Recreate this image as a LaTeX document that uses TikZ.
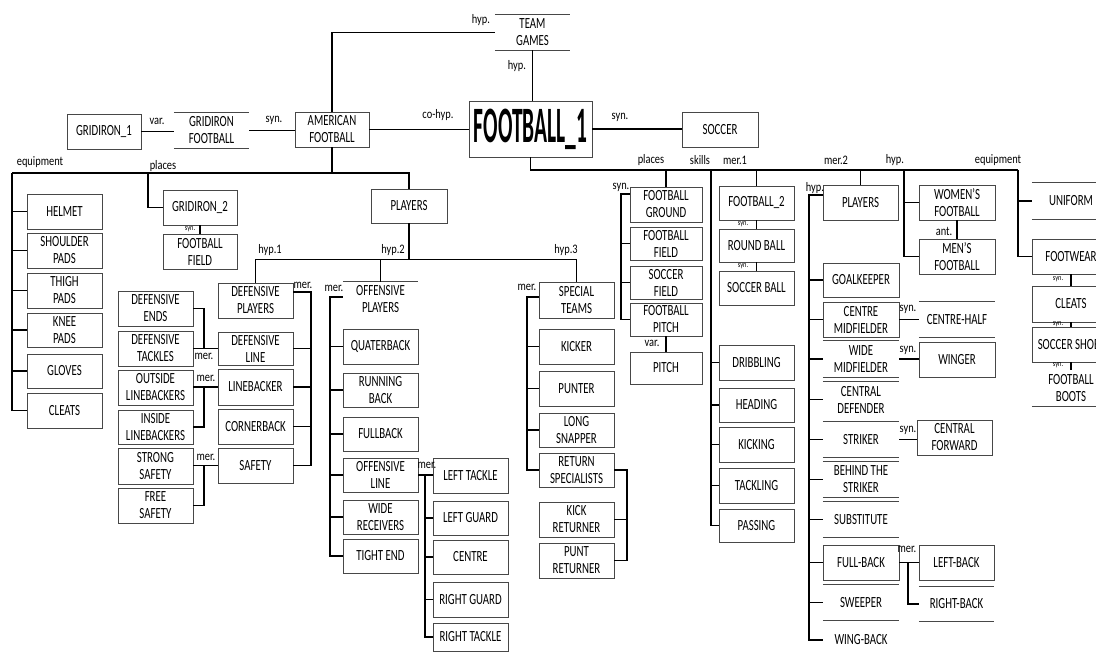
\documentclass[tikz,border=0pt]{standalone}
\usepackage{fontspec}
\setmainfont{Carlito}[FakeStretch=0.70]
\newfontfamily\bigfont{Carlito}[FakeStretch=0.42]
\newfontfamily\lblf{Carlito}[FakeStretch=0.8]
\usetikzlibrary{calc}
\newcommand\bx[7][box]{\node[#1,minimum width={(#5-#3)*1pt},minimum height={(#6-#4)*1pt}] (#2) at ({(#3+#5)/2},{(#4+#6)/2}) {#7};}
\newcommand\tbl[1]{\draw[edge] (#1.north west) -- (#1.north east) (#1.south west) -- (#1.south east);}
\newcommand\tpl[1]{\draw[edge] (#1.north west) -- (#1.north east);}
\newcommand\btl[1]{\draw[edge] (#1.south west) -- (#1.south east);}
\begin{document}
\begin{tikzpicture}[x=1pt,y=-1pt,
  box/.style={draw=black!72,line width=0.9pt,inner sep=0pt,align=center,font=\fontsize{15.5}{17}\selectfont},
  open/.style={inner sep=0pt,align=center,font=\fontsize{15.5}{17}\selectfont},
  edge/.style={draw=black!72,line width=0.9pt},
  ln/.style={draw=black,line width=1.2pt},
  lbl/.style={inner sep=0pt,font=\lblf\fontsize{13}{15}\selectfont},
  tiny/.style={inner sep=0pt,font=\lblf\fontsize{8}{9}\selectfont}]
\useasboundingbox (0,0) rectangle (1096,652);
\clip (0,0) rectangle (1096,652);
% ---- top row
\bx[open]{tg}{495}{15}{570}{50}{TEAM\\GAMES}\tbl{tg}
\bx[box,font=\bigfont\bfseries\fontsize{51}{51}\selectfont]{f1}{469}{101}{592}{157}{FOOTBALL\_1}
\bx{g1}{67}{114}{141}{149}{GRIDIRON\_1}
\bx[open]{gf}{174}{113}{249}{148}{GRIDIRON\\FOOTBALL}\tbl{gf}
\bx{af}{295}{112}{369}{147}{AMERICAN\\FOOTBALL}
\bx{soc}{682}{112}{758}{147}{SOCCER}
\draw[ln] (af.north) |- (tg.west);
\draw[ln] (tg.south) -- (tg.south |- f1.north);
\draw[ln] (af.east) -- (af.east -| f1.west);
\draw[ln] (f1.east) -- (f1.east -| soc.west);
\draw[ln] (g1.east) -- (g1.east -| gf.west);
\draw[ln] (gf.east) -- (gf.east -| af.west);
\node[lbl] (l1) at (481,20) {hyp.};
\node[lbl] (l2) at (517,66) {hyp.};
\node[lbl] (l3) at (438,115) {co-hyp.};
\node[lbl] (l4) at (620,117) {syn.};
\node[lbl] (l5) at (157,121) {var.};
\node[lbl] (l6) at (274,120) {syn.};
% ---- American football
\coordinate (eqtop) at (12,173);
\coordinate (plc) at (148,173);
\bx{apl}{371}{189}{447}{223}{PLAYERS}
\draw[ln] (af.south) |- (eqtop);
\draw[ln] (af.south |- eqtop) -| (apl.north);
\node[lbl] (l7) at (40,162) {equipment};
\node[lbl] (l8) at (163,166) {places};
\bx{helm}{27}{194}{102}{229}{HELMET}
\bx{shp}{27}{233}{102}{268}{SHOULDER\\PADS}
\bx{thp}{27}{273}{102}{308}{THIGH\\PADS}
\bx{knp}{27}{313}{102}{347}{KNEE\\PADS}
\bx{glv}{27}{354}{102}{388}{GLOVES}
\bx{clt}{27}{393}{102}{428}{CLEATS}
\draw[ln] (eqtop) |- (clt.west);
\foreach \n in {helm,shp,thp,knp,glv} \draw[ln] (\n.west) -- (\n.west -| eqtop);
\bx{gr2}{163}{190}{237}{225}{GRIDIRON\_2}
\bx{ff1}{163}{234}{237}{269}{FOOTBALL\\FIELD}
\draw[ln] (plc) |- (gr2.west);
\draw[ln] (gr2.south) -- (ff1.north);
\node[tiny] (l9) at (190,229) {syn.};
% players tree
\draw[ln] (apl.south) -- ++(0,36) coordinate (hb);
\bx{dp}{218}{283}{293}{318}{DEFENSIVE\\PLAYERS}
\bx[open]{op}{343}{282}{418}{317}{OFFENSIVE\\PLAYERS}\tpl{op}
\bx{st}{539}{282}{614}{318}{SPECIAL\\TEAMS}
\draw[ln] (dp.north) |- (hb) -| (st.north);
\draw[ln] (op.north) -- (op.north |- hb);
\node[lbl] (l10) at (270,250) {hyp.1};
\node[lbl] (l11) at (393,250) {hyp.2};
\node[lbl] (l12) at (566,250) {hyp.3};
% defensive
\bx{dl}{218}{332}{293}{365}{DEFENSIVE\\LINE}
\bx{lb}{218}{369}{293}{405}{LINEBACKER}
\bx{cb}{218}{409}{293}{444}{CORNERBACK}
\bx{sf}{218}{448}{293}{483}{SAFETY}
\bx{de}{118}{291}{193}{326}{DEFENSIVE\\ENDS}
\bx{dt}{118}{331}{193}{366}{DEFENSIVE\\TACKLES}
\bx{olb}{118}{370}{193}{405}{OUTSIDE\\LINEBACKERS}
\bx{ilb}{118}{410}{193}{444}{INSIDE\\LINEBACKERS}
\bx{ss}{118}{448}{193}{484}{STRONG\\SAFETY}
\bx{fs}{118}{488}{193}{523}{FREE\\SAFETY}
\coordinate (dpm) at (311,292);
\draw[ln] (dp.east |- dpm) -- (dpm) |- (sf.east);
\foreach \n in {dl,lb,cb} \draw[ln] (\n.east) -- (\n.east -| dpm);
\node[lbl] (l13) at (303,285) {mer.};
\coordinate (j1) at (204,0);
\draw[ln] (de.east) -| (j1 |- dl.west);
\draw[ln] (dt.east) -- (dt.east -| dl.west);
\draw[ln] (lb.west) -- (lb.west -| olb.east);
\draw[ln] (lb.west -| j1) |- (ilb.east);
\draw[ln] (sf.west) -- (sf.west -| ss.east);
\draw[ln] (sf.west -| j1) |- (fs.east);
\node[lbl] (l14) at (204,356) {mer.};
\node[lbl] (l15) at (206,378) {mer.};
\node[lbl] (l16) at (206,457) {mer.};
% offensive
\bx{qb}{343}{329}{418}{364}{QUATERBACK}
\bx{rb}{343}{373}{418}{407}{RUNNING\\BACK}
\bx{fb}{343}{417}{418}{451}{FULLBACK}
\bx{ol}{343}{458}{418}{492}{OFFENSIVE\\LINE}
\bx{wr}{343}{500}{418}{534}{WIDE\\RECEIVERS}
\bx{te}{343}{539}{418}{573}{TIGHT END}
\coordinate (opm) at (330,297);
\draw[ln] (op.west |- opm) -- (opm) |- (te.west);
\foreach \n in {qb,rb,fb,ol,wr} \draw[ln] (\n.west) -- (\n.west -| opm);
\node[lbl] (l17) at (334,288) {mer.};
\bx{lt}{433}{458}{508}{493}{LEFT TACKLE}
\bx{lg}{433}{501}{508}{535}{LEFT GUARD}
\bx{ce}{433}{540}{508}{574}{CENTRE}
\bx{rg}{433}{582}{508}{617}{RIGHT GUARD}
\bx{rt}{433}{623}{508}{651}{RIGHT TACKLE}
\coordinate (olm) at (425,0);
\draw[ln] (ol.east) -- (ol.east -| lt.west);
\draw[ln] (ol.east -| olm) |- (rt.west);
\foreach \n in {lg,ce,rg} \draw[ln] (\n.west) -- (\n.west -| olm);
\node[lbl] (l18) at (427,465) {mer.};
% special teams
\bx{kk}{539}{329}{614}{364}{KICKER}
\bx{pu}{539}{371}{614}{406}{PUNTER}
\bx{ls}{539}{413}{614}{447}{LONG\\SNAPPER}
\bx{rs}{539}{453}{614}{487}{RETURN\\SPECIALISTS}
\bx{kr}{539}{502}{614}{537}{KICK\\RETURNER}
\bx{pr}{539}{543}{614}{578}{PUNT\\RETURNER}
\coordinate (stm) at (527,297);
\draw[ln] (st.west |- stm) -- (stm) |- (rs.west);
\foreach \n in {kk,pu,ls} \draw[ln] (\n.west) -- (\n.west -| stm);
\node[lbl] (l19) at (527,287) {mer.};
\coordinate (rsm) at (627,0);
\draw[ln] (rs.east) -| (rsm |- pr.east) -- (pr.east);
\draw[ln] (kr.east) -- (kr.east -| rsm);
% ---- soccer side
\coordinate (eqr) at (1018,170);
\coordinate (sk) at (711,170);
\coordinate (hy) at (904,170);
\draw[ln] (f1.south) |- (eqr);
\node[lbl] (l20) at (651,160) {places};
\node[lbl] (l21) at (700,160) {skills};
\node[lbl] (l22) at (735,160) {mer.1};
\node[lbl] (l23) at (836,160) {mer.2};
\node[lbl] (l24) at (895,160) {hyp.};
\node[lbl] (l25) at (998,160) {equipment};
% places
\bx{fg}{630}{187}{702}{222}{FOOTBALL\\GROUND}
\bx{ffd}{630}{227}{702}{260}{FOOTBALL\\FIELD}
\bx{sfd}{630}{266}{702}{299}{SOCCER\\FIELD}
\bx{fp}{630}{303}{702}{336}{FOOTBALL\\PITCH}
\bx{pit}{630}{352}{702}{384}{PITCH}
\draw[ln] (fg.north) -- (fg.north |- eqr);
\coordinate (fgs) at (621,194);
\draw[ln] (fg.west |- fgs) -- (fgs) |- (fp.west);
\foreach \n in {ffd,sfd} \draw[ln] (\n.west) -- (\n.west -| fgs);
\node[lbl] (l26) at (621,187) {syn.};
\draw[ln] (fp.south) -- (pit.north);
\node[lbl] (l27) at (652,343) {var.};
% mer.1 and skills
\bx{f2}{719}{186}{794}{220}{FOOTBALL\_2}
\bx{rbl}{719}{229}{794}{262}{ROUND BALL}
\bx{sbl}{719}{271}{794}{305}{SOCCER BALL}
\draw[ln] (f2.north) -- (f2.north |- eqr);
\draw[ln] (f2.south) -- (rbl.north);
\draw[ln] (rbl.south) -- (sbl.north);
\node[tiny] (l28) at (743,224) {syn.};
\node[tiny] (l29) at (743,266) {syn.};
\bx{dri}{719}{345}{794}{380}{DRIBBLING}
\bx{hea}{719}{388}{794}{422}{HEADING}
\bx{kic}{719}{427}{794}{462}{KICKING}
\bx{tac}{719}{468}{794}{503}{TACKLING}
\bx{pas}{719}{509}{794}{542}{PASSING}
\draw[ln] (sk) |- (pas.west);
\foreach \n in {dri,hea,kic,tac} \draw[ln] (\n.west) -- (\n.west -| sk);
% soccer players
\bx{spl}{823}{185}{898}{220}{PLAYERS}
\draw[ln] (spl.north) -- (spl.north |- eqr);
\bx{gk}{823}{263}{899}{297}{GOALKEEPER}
\bx{cm}{823}{302}{899}{337}{CENTRE\\MIDFIELDER}
\bx[open]{wm}{823}{341}{899}{377}{WIDE\\MIDFIELDER}\tbl{wm}
\bx[open]{cd}{823}{382}{899}{417}{CENTRAL\\DEFENDER}\tpl{cd}
\bx[open]{stk}{823}{422}{899}{457}{STRIKER}\tbl{stk}
\bx[open]{bts}{823}{462}{899}{497}{BEHIND THE\\STRIKER}\tbl{bts}
\bx[open]{sub}{823}{502}{899}{537}{SUBSTITUTE}\tbl{sub}
\bx{fbk}{823}{545}{899}{580}{FULL-BACK}
\bx[open]{swp}{823}{585}{899}{620}{SWEEPER}\tbl{swp}
\bx[open]{wb}{823}{628}{899}{652}{WING-BACK}
\coordinate (sph) at (809,195);
\draw[ln] (spl.west |- sph) -- (sph) |- (wb.west);
\foreach \n in {gk,cm,wm,cd,stk,bts,sub,fbk,swp} \draw[ln] (\n.west) -- (\n.west -| sph);
\node[lbl] (l30) at (815,188) {hyp.};
\bx[open]{ch}{919}{302}{995}{337}{CENTRE-HALF}\tbl{ch}
\bx{win}{919}{342}{995}{377}{WINGER}
\bx{cf}{917}{420}{992}{455}{CENTRAL\\FORWARD}
\bx{lfb}{919}{545}{994}{580}{LEFT-BACK}
\bx[open]{rtb}{919}{587}{994}{621}{RIGHT-BACK}\tbl{rtb}
\draw[ln] (cm.east) -- (cm.east -| ch.west);
\draw[ln] (wm.east) -- (wm.east -| win.west);
\draw[ln] (stk.east) -- (stk.east -| cf.west);
\coordinate (fbm) at (908,0);
\draw[ln] (fbk.east) -- (fbk.east -| lfb.west);
\draw[ln] (fbk.east -| fbm) |- (rtb.west);
\node[lbl] (l31) at (908,309) {syn.};
\node[lbl] (l32) at (908,350) {syn.};
\node[lbl] (l33) at (908,430) {syn.};
\node[lbl] (l34) at (907,549) {mer.};
% women's / men's
\bx{wf}{919}{185}{995}{220}{WOMEN'S\\FOOTBALL}
\bx{mf}{919}{239}{995}{274}{MEN'S\\FOOTBALL}
\draw[ln] (hy) |- (mf.west);
\draw[ln] (wf.west) -- (wf.west -| hy);
\draw[ln] (wf.south) -- (mf.north);
\node[lbl] (l35) at (944,231) {ant.};
% equipment
\bx[open]{uni}{1032}{183}{1110}{219}{UNIFORM}\tbl{uni}
\bx{fw}{1032}{239}{1110}{274}{FOOTWEAR}
\bx{cl}{1032}{286}{1110}{322}{CLEATS}
\bx{ssh}{1032}{327}{1110}{362}{SOCCER SHOES}
\bx[open]{fbt}{1032}{370}{1110}{406}{FOOTBALL\\BOOTS}\btl{fbt}
\draw[ln] (eqr) |- (fw.west);
\draw[ln] (uni.west) -- (uni.west -| eqr);
\draw[ln] (fw.south) -- (cl.north);
\draw[ln] (cl.south) -- (ssh.north);
\draw[ln] (ssh.south) -- (fbt.north);
\node[tiny] (l36) at (1058,279) {syn.};
\node[tiny] (l37) at (1058,324) {syn.};
\node[tiny] (l38) at (1058,365) {syn.};
\end{tikzpicture}
\end{document}
